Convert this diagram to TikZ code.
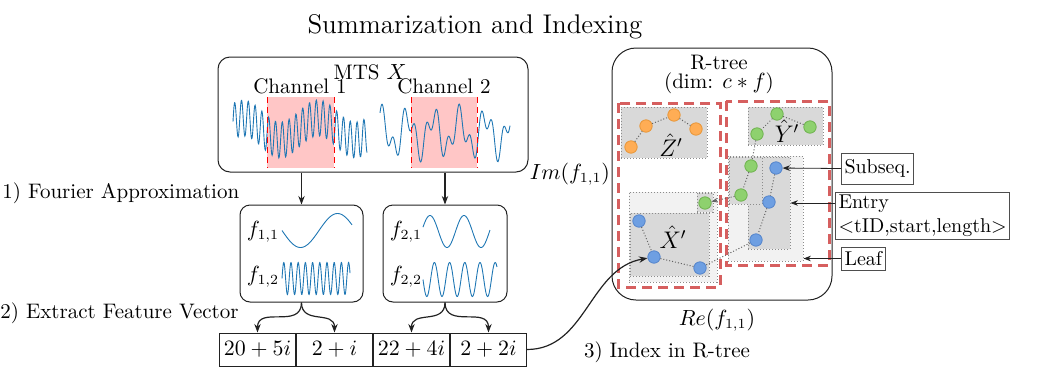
\documentclass[tikz,border=0pt]{standalone}
\usepackage{tikz}
\usetikzlibrary{arrows.meta,calc,fit,positioning}
\definecolor{Ink}{HTML}{222222}
\definecolor{WaveBlue}{HTML}{1F77B4}
\definecolor{WinPink}{HTML}{FFC6C6}
\definecolor{MbrRed}{HTML}{D65F5F}
\definecolor{LeafGray}{HTML}{D9D9D9}
\definecolor{DirGray}{HTML}{F2F2F2}
\definecolor{DotGray}{HTML}{8C8C8C}
\definecolor{PtOrange}{HTML}{FFAD55}
\definecolor{PtOrangeRim}{HTML}{E8973A}
\definecolor{PtGreen}{HTML}{8ED16E}
\definecolor{PtGreenRim}{HTML}{6FB34F}
\definecolor{PtBlue}{HTML}{6E9FE2}
\definecolor{PtBlueRim}{HTML}{5585CC}
\tikzset{
  panel/.style={draw=Ink,line width=.5pt,rounded corners=6pt,inner sep=0pt},
  wave/.style={draw=WaveBlue,line width=.45pt},
  winFill/.style={fill=WinPink,draw=none},
  winEdge/.style={draw=red,densely dashed,line width=.5pt},
  cell/.style={draw=Ink,line width=.5pt,minimum width=38pt,minimum height=16.5pt,
    inner sep=0pt,font=\fontsize{10.5}{12.5}\selectfont},
  flow/.style={-{Stealth[length=1.5mm]},draw=Ink,line width=.6pt},
  mbr/.style={draw=MbrRed,line width=1.5pt,dash pattern=on 5pt off 3pt},
  leafBox/.style={fill=LeafGray,draw=DotGray,densely dotted,line width=.5pt,inner sep=0pt},
  dirBox/.style={fill=DirGray,draw=DotGray,densely dotted,line width=.5pt,inner sep=0pt},
  entryPt/.style={circle,minimum size=6.2pt,inner sep=0pt,line width=.4pt},
  ptZ/.style={entryPt,fill=PtOrange,draw=PtOrangeRim},
  ptY/.style={entryPt,fill=PtGreen,draw=PtGreenRim},
  ptX/.style={entryPt,fill=PtBlue,draw=PtBlueRim},
  link/.style={draw=DotGray!70!black,densely dotted,line width=.5pt},
  tag/.style={draw=Ink!80,line width=.5pt,inner xsep=1.5pt,inner ysep=2pt,align=left,
    font=\fontsize{10}{12}\selectfont},
  pointer/.style={-{Stealth[length=1.3mm]},draw=Ink,line width=.4pt},
  label/.style={font=\fontsize{10.5}{12.5}\selectfont}
}
\begin{document}
\begin{tikzpicture}[x=0.5pt,y=-0.5pt]
  \useasboundingbox (0,0) rectangle (1046,376);
  \node[font=\fontsize{13.5}{16}\selectfont] (title) at (475,27) {Summarization and Indexing};

  % MTS panel with the two channel windows
  \node[panel,fit={(218,57)(528,172)}] (mts) {};
  \fill[winFill] (267,97) rectangle (334,168);
  \fill[winFill] (411,97) rectangle (477,168);
  \draw[wave] plot[domain=233:367,samples=340,smooth]
    (\x,{129-11*cos((\x-243)/75*360)-18*sin((\x-233)/6.8*360)});
  \draw[wave] plot[domain=380:510,samples=260,smooth]
    (\x,{133-17*sin((\x-380)/26*360+70)-12*sin((\x-380)/11*360+20)});
  \draw[winEdge] (267,97)--(267,168) (334,97)--(334,168);
  \draw[winEdge] (411,97)--(411,168) (477,97)--(477,168);
  \node[label] (mtsLabel) at (370,72) {MTS $X$};
  \node[label] (ch1) at (300,86) {Channel 1};
  \node[label] (ch2) at (444,86) {Channel 2};

  % Fourier approximation
  \node[label,anchor=west,inner xsep=0pt] (step1) at (2,193) {1) Fourier Approximation};
  \node[panel,rounded corners=5pt,fit={(240,205)(363,302)}] (fa) {};
  \node[panel,rounded corners=5pt,fit={(383,205)(507,302)}] (fb) {};
  \draw[flow] (mts.south -| fa.north) -- (fa.north);
  \draw[flow] (mts.south -| fb.north) -- (fb.north);
  \node[label] (f11) at (263,232) {$f_{1,1}$};
  \node[label] (f12) at (263,277) {$f_{1,2}$};
  \node[label] (f21) at (406,232) {$f_{2,1}$};
  \node[label] (f22) at (406,277) {$f_{2,2}$};
  \draw[wave] plot[domain=282:352,samples=80,smooth] (\x,{230.5+17*sin((\x-282)/74*360)});
  \draw[wave] plot[domain=282:350,samples=240,smooth] (\x,{278.5-16*sin((\x-282)/7.2*360)});
  \draw[wave] plot[domain=423:490,samples=100,smooth] (\x,{231.5-16*cos((\x-430)/34*360)});
  \draw[wave] plot[domain=423:497,samples=160,smooth] (\x,{279.5+17*sin((\x-423)/15.2*360)});

  % Feature vector
  \node[label,anchor=west,inner xsep=0pt] (step2) at (0,313) {2) Extract Feature Vector};
  \node[cell] (c1) at (257.5,349.5) {$20+5i$};
  \node[cell,right=0pt of c1] (c2) {$2+i$};
  \node[cell,right=0pt of c2] (c3) {$22+4i$};
  \node[cell,right=0pt of c3] (c4) {$2+2i$};
  \draw[flow] (fa.south) to[out=-90,in=90,looseness=1.3] (c1.north);
  \draw[flow] (fa.south) to[out=-90,in=90,looseness=1.3] (c2.north);
  \draw[flow] (fb.south) to[out=-90,in=90,looseness=1.3] (c3.north);
  \draw[flow] (fb.south) to[out=-90,in=90,looseness=1.3] (c4.north);

  % R-tree panel
  \node[panel,rounded corners=12pt,fit={(612,48)(832,300)}] (rtree) {};
  \node[label] (rtLabel) at (719,63) {R-tree};
  \node[label] (rtDim) at (719,83) {(dim: $c*f$)};
  \node[label] (imAxis) at (570,174) {$Im(f_{1,1})$};
  \node[label] (reAxis) at (717,320) {$Re(f_{1,1})$};
  \node[label] (step3) at (667,352) {3) Index in R-tree};

  % directory and leaf rectangles
  \node[dirBox,fit={(728,156)(803,261)}] (rmid) {};
  \node[leafBox,fit={(748,157)(790,249)}] (bcol) {};
  \node[leafBox,fit={(729,157)(762,204)}] (gcol) {};
  \node[dirBox,fit={(629,192)(717,282)}] (lmid) {};
  \node[leafBox,fit={(697,193)(713,212)}] (gsmall) {};
  \node[leafBox,fit={(630,213)(709,276)}] (xbox) {};
  \node[leafBox,fit={(621,107)(707,158)}] (zbox) {};
  \node[leafBox,fit={(748,107)(823,145)}] (ybox) {};
  \draw[mbr] (618,103) rectangle (720,287);
  \draw[mbr] (726,101) rectangle (829,265);

  % entries
  \node[ptZ] (z1) at (631,147) {};
  \node[ptZ] (z2) at (646,126) {};
  \node[ptZ] (z3) at (674,115) {};
  \node[ptZ] (z4) at (696,129) {};
  \node[ptY] (y1) at (777,114) {};
  \node[ptY] (y2) at (757,134) {};
  \node[ptY] (y3) at (810,127) {};
  \node[ptY] (g1) at (751,166) {};
  \node[ptY] (g2) at (741,195) {};
  \node[ptY] (gs) at (705,203) {};
  \node[ptX] (b1) at (776,168) {};
  \node[ptX] (b2) at (769,202) {};
  \node[ptX] (b3) at (756,240) {};
  \node[ptX] (x1) at (639,221) {};
  \node[ptX] (x2) at (654,257) {};
  \node[ptX] (x3) at (700,268) {};
  \draw[link] (z1)--(z2) (z2)--(z3) (z3)--(z4);
  \draw[link] (y1)--(y2) (y1)--(y3) (y2)--(g1) (g1)--(g2);
  \draw[link] (b1)--(b2) (b2)--(b3) (b3)--(x3);
  \draw[link] (x1)--(x2) (x2)--(x3);
  \draw[link,-{Stealth[length=1.1mm]}] (g2)--(gs);
  \node[font=\large] (zhat) at (671,145) {$\hat{Z}'$};
  \node[font=\large] (yhat) at (787,131) {$\hat{Y}'$};
  \node[font=\large] (xhat) at (673,237) {$\hat{X}'$};

  \draw[flow] (c4.east) to[out=0,in=190] (x2);

  % legend tags
  \node[tag,anchor=west,minimum height=15.5pt] (subseq) at (841,168.5) {Subseq.};
  \node[tag,anchor=west,inner ysep=1.5pt] (entry) at (835,216) {Entry\\$<$tID,start,length$>$};
  \node[tag,anchor=west,minimum height=11.5pt,inner ysep=1pt] (leaf) at (841,258.5) {Leaf};
  \draw[pointer] (subseq.west) -- (b1);
  \draw[pointer] (bcol.east -| entry.west) -- (bcol.east);
  \draw[pointer] (leaf.west) -- (leaf.west -| rmid.east);
\end{tikzpicture}
\end{document}
